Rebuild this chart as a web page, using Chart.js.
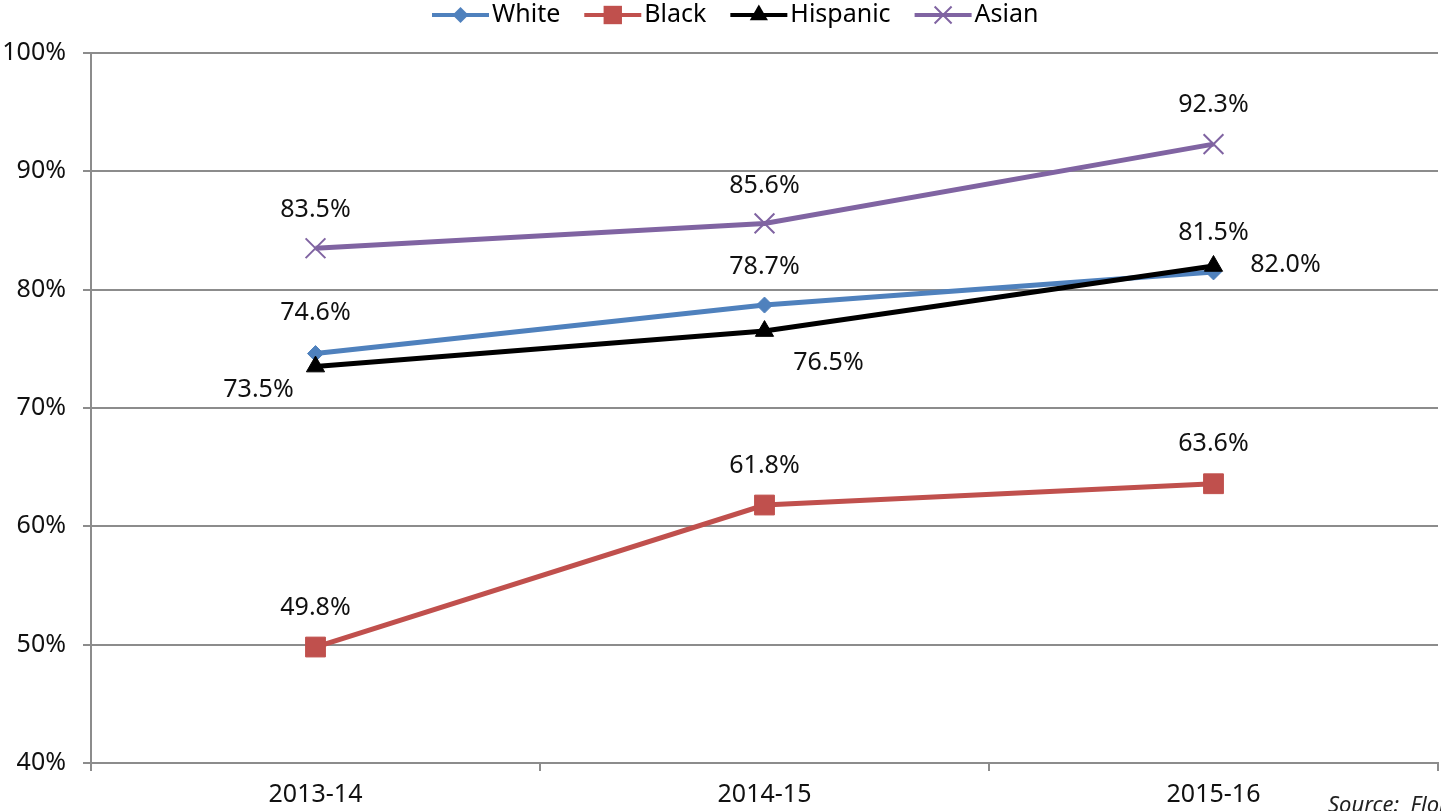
<!DOCTYPE html>
<html>
<head>
<meta charset="utf-8">
<script src="https://cdn.jsdelivr.net/npm/chart.js@4/dist/chart.umd.min.js"></script>
<style>
  html, body { margin: 0; padding: 0; background: #ffffff; }
  canvas { display: block; }
</style>
</head>
<body>
<canvas id="c" width="1441" height="811"></canvas>
<script>
// ---- data ----
const categories = ["2013-14", "2014-15", "2015-16"];
const whiteValues = [74.6, 78.7, 81.5];
const blackValues = [49.8, 61.8, 63.6];
const hispanicValues = [73.5, 76.5, 82.0];
const asianValues = [83.5, 85.6, 92.3];
const seriesNames = ["White", "Black", "Hispanic", "Asian"];
const yTickMin = 40, yTickMax = 100, yTickStep = 10;
const sourceText = "Source:  Florida Department of Education";

// ---- styling ----
const FONT = '"Noto Sans", "Open Sans", sans-serif';
const FS = 25;
const colors = ["#4F81BD", "#C0504D", "#000000", "#8064A2"];
const pointStyles = ["rectRot", "rect", "triangle", "crossRot"];
const pointRadii = [8, 14, 10.5, 14];
const legendRadii = [8, 13, 10.5, 12];
// label offsets (dx, dy) relative to each point, per series
const labelOffsets = [
  [[0, -41], [0, -38], [0, -39]],
  [[0, -39], [0, -39], [0, -40]],
  [[-57, 23], [64, 32], [72, -1]],
  [[0, -38], [0, -38], [0, -39]]
];

const valueSets = [whiteValues, blackValues, hispanicValues, asianValues];
const datasets = seriesNames.map((name, i) => ({
  label: name,
  data: valueSets[i],
  borderColor: colors[i],
  backgroundColor: colors[i],
  borderWidth: 5,
  pointStyle: pointStyles[i],
  pointRadius: pointRadii[i],
  pointHoverRadius: pointRadii[i],
  pointBorderWidth: i === 3 ? 2 : 1,
  pointBorderColor: colors[i],
  pointBackgroundColor: colors[i],
  tension: 0,
  fill: false,
  clip: false
}));
datasets[0].order = 3; datasets[1].order = 2; datasets[2].order = 1; datasets[3].order = 4;

function drawMarker(ctx, style, x, y, r, color) {
  ctx.save();
  ctx.fillStyle = color; ctx.strokeStyle = color;
  ctx.beginPath();
  if (style === "rectRot") {
    ctx.moveTo(x, y - r); ctx.lineTo(x + r, y); ctx.lineTo(x, y + r); ctx.lineTo(x - r, y); ctx.closePath(); ctx.fill();
  } else if (style === "rect") {
    const s = r * Math.SQRT1_2; ctx.rect(x - s, y - s, 2 * s, 2 * s); ctx.fill();
  } else if (style === "triangle") {
    ctx.moveTo(x, y - r); ctx.lineTo(x + r * 0.866, y + r * 0.5); ctx.lineTo(x - r * 0.866, y + r * 0.5); ctx.closePath(); ctx.fill();
  } else if (style === "crossRot") {
    const s = r * Math.SQRT1_2; ctx.lineWidth = 2;
    ctx.moveTo(x - s, y - s); ctx.lineTo(x + s, y + s); ctx.moveTo(x + s, y - s); ctx.lineTo(x - s, y + s); ctx.stroke();
  }
  ctx.restore();
}

const legendPlugin = {
  id: "customLegend",
  afterDraw(chart) {
    const ctx = chart.ctx;
    ctx.save();
    ctx.font = FS + "px " + FONT;
    ctx.textBaseline = "middle";
    ctx.textAlign = "left";
    let x = 432; const y = 15;
    chart.data.datasets.forEach((ds, i) => {
      const lineW = 57;
      ctx.strokeStyle = ds.borderColor; ctx.lineWidth = 4;
      ctx.beginPath(); ctx.moveTo(x, y); ctx.lineTo(x + lineW, y); ctx.stroke();
      drawMarker(ctx, ds.pointStyle, x + lineW / 2, y, legendRadii[i], ds.borderColor);
      ctx.fillStyle = "#000000";
      ctx.fillText(ds.label, x + lineW + 3, y);
      x += lineW + 3 + ctx.measureText(ds.label).width + 24;
    });
    ctx.restore();
  }
};

const labelPlugin = {
  id: "pointLabels",
  afterDatasetsDraw(chart) {
    const ctx = chart.ctx;
    ctx.save();
    ctx.font = FS + "px " + FONT;
    ctx.fillStyle = "#111111";
    ctx.textAlign = "center";
    ctx.textBaseline = "middle";
    chart.data.datasets.forEach((ds, di) => {
      const meta = chart.getDatasetMeta(di);
      meta.data.forEach((pt, j) => {
        const off = labelOffsets[di][j];
        ctx.fillText(ds.data[j].toFixed(1) + "%", pt.x + off[0], pt.y + off[1]);
      });
    });
    ctx.font = "italic 22px " + FONT;
    ctx.textAlign = "left";
    ctx.fillStyle = "#222222";
    ctx.fillText(sourceText, 1328, 806);
    ctx.restore();
  }
};

new Chart(document.getElementById("c"), {
  type: "line",
  data: { labels: categories, datasets },
  options: {
    responsive: false,
    animation: false,
    devicePixelRatio: 1,
    layout: { autoPadding: false, padding: { top: 53, right: 3, left: 0, bottom: 0 } },
    plugins: { legend: { display: false }, tooltip: { enabled: false } },
    scales: {
      x: {
        offset: true,
        grid: { display: true, drawOnChartArea: false, drawTicks: true, tickLength: 8, offset: true, color: "#8c8c8c", lineWidth: 2 },
        border: { display: true, color: "#8c8c8c", width: 2 },
        ticks: { color: "#111111", font: { family: FONT, size: FS }, padding: 9, maxRotation: 0 },
        afterFit(s) { s.height = 48; s.paddingRight = 0; s.paddingLeft = 0; }
      },
      y: {
        min: yTickMin, max: yTickMax,
        ticks: { stepSize: yTickStep, color: "#111111", font: { family: FONT, size: FS }, padding: 17, callback: v => v + "%" },
        grid: { color: "#8c8c8c", lineWidth: 2, tickLength: 8, drawTicks: true },
        border: { display: true, color: "#8c8c8c", width: 2 },
        afterFit(s) { s.width = 91; }
      }
    }
  },
  plugins: [legendPlugin, labelPlugin]
});
</script>
</body>
</html>
